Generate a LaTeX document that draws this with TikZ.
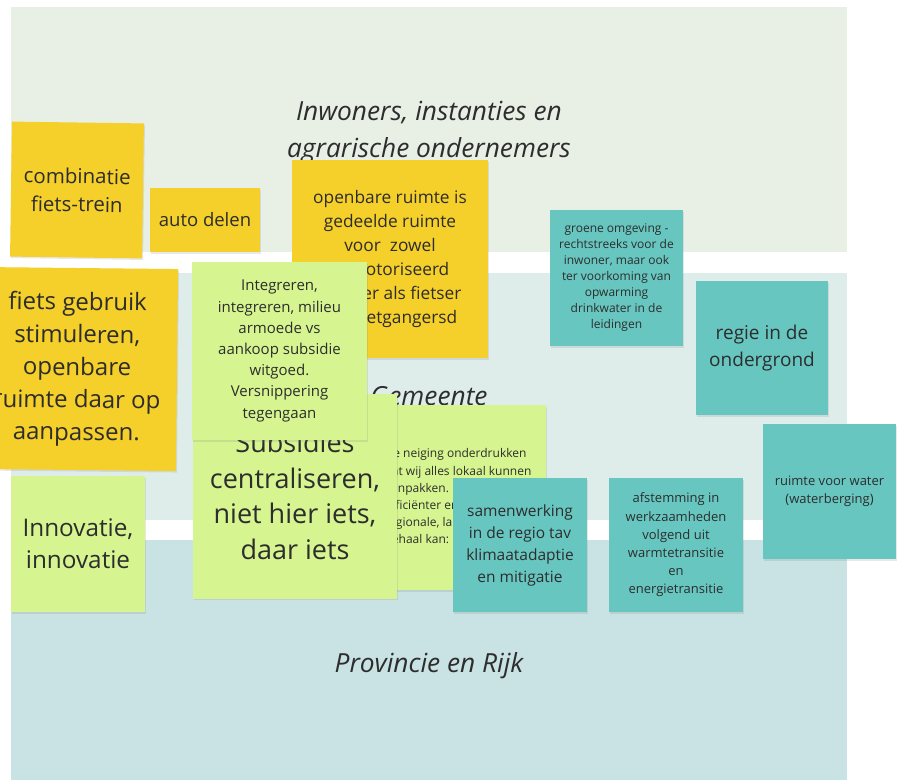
\documentclass[tikz,border=0pt]{standalone}
\usepackage{fontspec}
\setmainfont{Open Sans}
\usetikzlibrary{shadows}
\definecolor{bandA}{HTML}{E8F0E6}
\definecolor{bandB}{HTML}{DFEDEA}
\definecolor{bandC}{HTML}{C9E2E3}
\definecolor{yel}{HTML}{F5CF2A}
\definecolor{lgreen}{HTML}{D6F590}
\definecolor{tealnote}{HTML}{67C6C0}
\definecolor{ink}{HTML}{2D2D2D}
\newcommand\fz[2]{\fontsize{#1}{#2}\selectfont}
\tikzset{
  sticky/.style={inner sep=0pt, align=center, text=ink,
    drop shadow={shadow xshift=1pt, shadow yshift=-1.5pt, opacity=0.18}},
  yelnote/.style={sticky, fill=yel},
  greennote/.style={sticky, fill=lgreen},
  tealnote/.style={sticky, fill=tealnote},
  bandlabel/.style={inner sep=0pt, align=center, text=ink, font=\itshape\fz{26.3}{37}},
}
\begin{document}
\begin{tikzpicture}[x=1pt, y=-1pt]
\useasboundingbox (0,0) rectangle (902,780);
\fill[white] (0,0) rectangle (902,780);
% bands
\fill[bandA] (11,7) rectangle (847,252);
\fill[bandB] (11,273) rectangle (847,520);
\fill[bandC] (11,540) rectangle (847,780);
% band labels
\node[bandlabel] (lab1) at (429,132) {Inwoners, instanties en\\agrarische ondernemers};
\node[bandlabel] (lab2) at (429,396) {Gemeente};
\node[bandlabel] (lab3) at (429,666) {Provincie en Rijk};
% notes
\node[yelnote, minimum width=132pt, minimum height=135pt, rotate=-0.8, font=\fz{20.5}{28}] (n1) at (77,190) {combinatie\\fiets-trein};
\node[yelnote, minimum width=110pt, minimum height=64pt, font=\fz{18.5}{24}] (n2) at (205,220) {auto delen};
\node[yelnote, minimum width=196pt, minimum height=198pt, font=\fz{17.3}{24}] (n3) at (390,259) {openbare ruimte is\\gedeelde ruimte\\voor~~zowel\\gemotoriseerd\\verkeer als fietser\\en voetgangersd};
\node[yelnote, minimum width=200pt, minimum height=202pt, rotate=-0.6, font=\fz{24}{32.5}] (n4) at (77,369) {fiets gebruik\\stimuleren,\\openbare\\ruimte daar op\\aanpassen.};
\node[greennote, minimum width=176pt, minimum height=185pt, font=\fz{12}{17.2}] (n5) at (458,497.5) {\begin{tabular}{@{}l@{}}De neiging onderdrukken\\dat wij alles lokaal kunnen\\aanpakken. Als het\\efficiënter en\\regionale, landelijk\\behaal kan: meer\end{tabular}};
\node[greennote, minimum width=204pt, minimum height=205pt, font=\fz{27}{35.5}] (n6) at (295,496) {Subsidies\\centraliseren,\\niet hier iets,\\daar iets};
\node[greennote, minimum width=175pt, minimum height=178pt, font=\fz{15}{21.2}] (n7) at (279.5,351) {Integreren,\\integreren, milieu\\armoede vs\\aankoop subsidie\\witgoed.\\Versnippering\\tegengaan};
\node[greennote, minimum width=134pt, minimum height=136pt, font=\fz{24.3}{32}] (n8) at (78,544) {\raisebox{0pt}[0pt][0pt]{}Innovatie,\\innovatie};
\node[tealnote, minimum width=133pt, minimum height=136pt, font=\fz{12}{16}] (n9) at (616.5,278) {groene omgeving -\\rechtstreeks voor de\\inwoner, maar ook\\ter voorkoming van\\opwarming\\drinkwater in de\\leidingen};
\node[tealnote, minimum width=132pt, minimum height=134pt, font=\fz{19}{27}] (n10) at (762,348) {regie in de\\ondergrond};
\node[tealnote, minimum width=133pt, minimum height=135pt, font=\fz{13}{18}] (n11) at (829.5,491.5) {ruimte voor water\\(waterberging)};
\node[tealnote, minimum width=134pt, minimum height=134pt, font=\fz{15.5}{22}] (n12) at (520,545) {samenwerking\\in de regio tav\\klimaatadaptie\\en mitigatie};
\node[tealnote, minimum width=134pt, minimum height=134pt, font=\fz{13}{18.2}] (n13) at (676,545) {afstemming in\\werkzaamheden\\volgend uit\\warmtetransitie\\en\\energietransitie};
\end{tikzpicture}
\end{document}
